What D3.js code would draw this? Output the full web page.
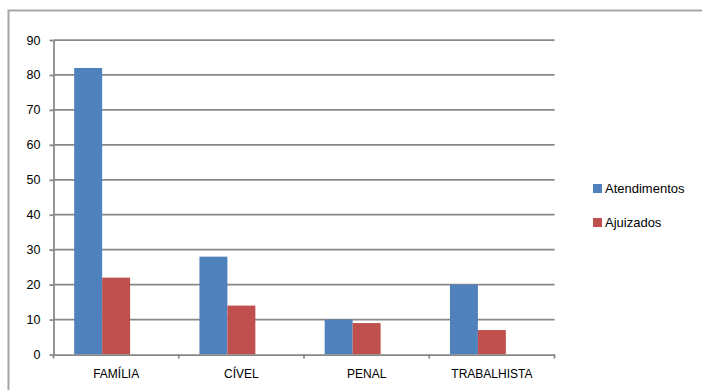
<!DOCTYPE html>
<html>
<head>
<meta charset="utf-8">
<script src="https://cdn.jsdelivr.net/npm/d3@7"></script>
<style>
  body { margin: 0; background: #fff; }
  svg { display: block; font-family: "Liberation Sans", Arial, sans-serif; }
</style>
</head>
<body>
<div id="vis"></div>
<script>
const FRAME_WIDTH = 702;
const FRAME_HEIGHT = 390;
const MARGINS = {left: 53.5, right: 147.5, top: 40, bottom: 35.5};

// data
const categories = ["FAMÍLIA", "CÍVEL", "PENAL", "TRABALHISTA"];
const seriesNames = ["Atendimentos", "Ajuizados"];
const atendimentos = [82, 28, 10, 20];
const ajuizados = [22, 14, 9, 7];
const yTicks = [0, 10, 20, 30, 40, 50, 60, 70, 80, 90];

const COLORS = ["#4F81BD", "#C0504D"];

const VIS_WIDTH = FRAME_WIDTH - MARGINS.left - MARGINS.right;
const VIS_HEIGHT = FRAME_HEIGHT - MARGINS.top - MARGINS.bottom;

const rows = categories.map((c, i) => ({cat: c, vals: [atendimentos[i], ajuizados[i]]}));

const FRAME = d3.select("#vis")
  .append("svg")
    .attr("width", FRAME_WIDTH)
    .attr("height", FRAME_HEIGHT);

// outer chart border (only top and left show in the reference)
FRAME.append("rect")
  .attr("x", 8.5).attr("y", 10.5)
  .attr("width", 720).attr("height", 400)
  .attr("fill", "none")
  .attr("stroke", "#a6a6a6")
  .attr("stroke-width", 2);

const X_SCALE = d3.scaleBand()
  .domain(categories)
  .range([0, VIS_WIDTH]);

// Excel cluster: three slots (third series empty), gap on the outside
const SLOT = d3.scaleBand()
  .domain([0, 1, 2])
  .range([0, X_SCALE.bandwidth()])
  .paddingOuter(0.74)
  .paddingInner(0);

const Y_SCALE = d3.scaleLinear()
  .domain([0, 90])
  .range([VIS_HEIGHT, 0]);

const G = FRAME.append("g")
  .attr("transform", "translate(" + MARGINS.left + "," + MARGINS.top + ")");

// gridlines
G.append("g")
  .selectAll("line")
  .data(yTicks.filter(d => d > 0))
  .enter()
  .append("line")
    .attr("x1", 0).attr("x2", VIS_WIDTH)
    .attr("y1", d => Y_SCALE(d)).attr("y2", d => Y_SCALE(d))
    .attr("stroke", "#878787")
    .attr("stroke-width", 1.75);

// bars
const groups = G.selectAll(".grp")
  .data(rows)
  .enter()
  .append("g")
    .attr("transform", d => "translate(" + X_SCALE(d.cat) + ",0)");

groups.selectAll("rect")
  .data(d => d.vals.map((v, k) => ({v: v, k: k})))
  .enter()
  .append("rect")
    .attr("x", d => SLOT(d.k))
    .attr("width", SLOT.bandwidth())
    .attr("y", d => Y_SCALE(d.v))
    .attr("height", d => VIS_HEIGHT - Y_SCALE(d.v))
    .attr("fill", d => COLORS[d.k]);

// y axis
const yAxis = G.append("g")
  .call(d3.axisLeft(Y_SCALE).tickValues(yTicks).tickSize(4).tickPadding(9).tickSizeOuter(0));
yAxis.select(".domain").attr("stroke", "#878787").attr("stroke-width", 1.75);
yAxis.selectAll(".tick line").attr("stroke", "#878787").attr("stroke-width", 1.75);
yAxis.selectAll("text").attr("font-size", "12.5px").attr("fill", "#000")
  .attr("font-family", "Liberation Sans, Arial, sans-serif");

// x axis
const xAxis = G.append("g")
  .attr("transform", "translate(0," + VIS_HEIGHT + ")")
  .call(d3.axisBottom(X_SCALE).tickSize(0).tickPadding(15).tickSizeOuter(0));
xAxis.select(".domain").attr("stroke", "#878787").attr("stroke-width", 1.75);
xAxis.selectAll("text").attr("font-size", "12px").attr("fill", "#000")
  .attr("font-family", "Liberation Sans, Arial, sans-serif");

// category boundary ticks
G.append("g")
  .selectAll("line")
  .data(categories.map(c => X_SCALE(c)).concat([VIS_WIDTH]))
  .enter()
  .append("line")
    .attr("x1", d => d).attr("x2", d => d)
    .attr("y1", VIS_HEIGHT).attr("y2", VIS_HEIGHT + 4)
    .attr("stroke", "#878787")
    .attr("stroke-width", 1.75);

// legend
const LEGEND = FRAME.append("g")
  .attr("transform", "translate(593,184)");

const items = LEGEND.selectAll("g")
  .data(seriesNames)
  .enter()
  .append("g")
    .attr("transform", (d, i) => "translate(0," + (i * 34) + ")");

items.append("rect")
  .attr("width", 9).attr("height", 9)
  .attr("fill", (d, i) => COLORS[i]);

items.append("text")
  .attr("x", 12).attr("y", 9)
  .attr("font-size", "13px")
  .attr("fill", "#000")
  .text(d => d);
</script>
</body>
</html>
